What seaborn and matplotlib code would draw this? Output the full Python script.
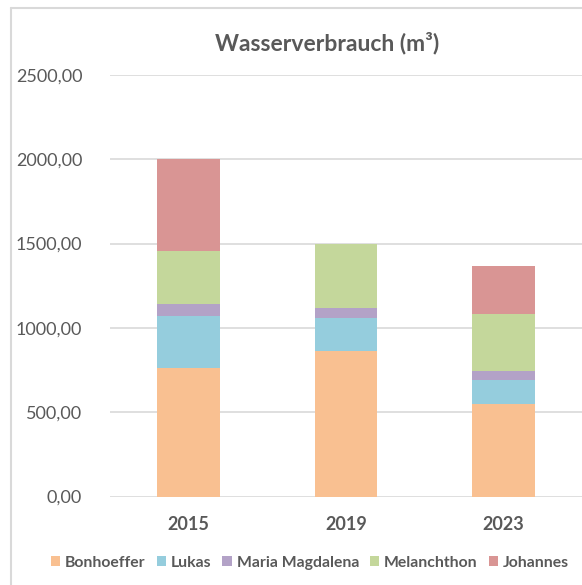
import matplotlib
matplotlib.use("Agg")
import matplotlib.pyplot as plt
from matplotlib.patches import Patch
from matplotlib.lines import Line2D
import seaborn as sns
import pandas as pd
import numpy as np

years = ["2015", "2019", "2023"]
series = ["Bonhoeffer", "Lukas", "Maria Magdalena", "Melanchthon", "Johannes"]
bonhoeffer = [764, 863, 549]
lukas = [308, 196, 142]
maria_magdalena = [70, 59, 54]
melanchthon = [314, 377, 337]
johannes = [547, 0, 285]
colors = ["#F9C091", "#95CDDD", "#B3A2C7", "#C4D79B", "#D99594"]
y_ticks = [0, 500, 1000, 1500, 2000, 2500]
y_tick_labels = ["0,00", "500,00", "1000,00", "1500,00", "2000,00", "2500,00"]
title = "Wasserverbrauch (m³)"

values = [bonhoeffer, lukas, maria_magdalena, melanchthon, johannes]
rows = []
for s, vals in zip(series, values):
    for y, v in zip(years, vals):
        rows.append({"Jahr": y, "Kirche": s, "Wert": v})
df = pd.DataFrame(rows)
df["Kirche"] = pd.Categorical(df["Kirche"], categories=series, ordered=True)
df = df.sort_values(["Jahr", "Kirche"])
df["Kumuliert"] = df.groupby("Jahr")["Wert"].cumsum()

sns.set_theme(style="white")
plt.rcParams["font.family"] = ["Lato", "DejaVu Sans"]
gray = "#595959"

fig = plt.figure(figsize=(5.82, 5.85), dpi=100)
ax = fig.add_axes([110 / 582, 1 - 496.5 / 585, 1 - 110 / 582, (496.5 - 75) / 585])

for s, c in reversed(list(zip(series, colors))):
    sub = df[df["Kirche"] == s]
    sns.barplot(data=sub, x="Jahr", y="Kumuliert", order=years, color=c,
                width=0.4, ax=ax, saturation=1, linewidth=0, zorder=3)

ax.set_ylim(0, 2500)
ax.set_xlim(-0.5, 2.5)
ax.set_yticks(y_ticks)
ax.set_yticklabels(y_tick_labels, color=gray, fontsize=13)
ax.set_xticks(range(len(years)))
ax.set_xticklabels(years, color=gray, fontsize=13, fontweight="bold")
ax.tick_params(axis="y", length=0, pad=20)
ax.tick_params(axis="x", length=0, pad=14)
ax.set_xlabel("")
ax.set_ylabel("")
for sp in ax.spines.values():
    sp.set_visible(False)
ax.grid(axis="y", color="#d9d9d9", linewidth=1.2, zorder=0)
ax.set_axisbelow(True)

fig.text(327 / 582, 1 - 43 / 585, title, ha="center", va="center",
         fontsize=16.5, fontweight="bold", color=gray)

handles = [Patch(facecolor=c, edgecolor="none", label=s) for s, c in zip(series, colors)]
fig.legend(handles=handles, loc="center", bbox_to_anchor=(310 / 582, 1 - 563 / 585),
           ncol=5, frameon=False, handlelength=0.6, handleheight=0.6,
           handletextpad=0.3, columnspacing=0.7, labelcolor=gray,
           prop={"weight": "bold", "size": 11.3})

# chart border (left and top)
fig.add_artist(Line2D([11 / 582, 11 / 582], [0, 1 - 8 / 585], transform=fig.transFigure,
                      color="#d9d9d9", linewidth=1.5))
fig.add_artist(Line2D([11 / 582, 1], [1 - 8 / 585, 1 - 8 / 585], transform=fig.transFigure,
                      color="#d9d9d9", linewidth=1.5))

fig.savefig("out.png", dpi=100, facecolor="white")
